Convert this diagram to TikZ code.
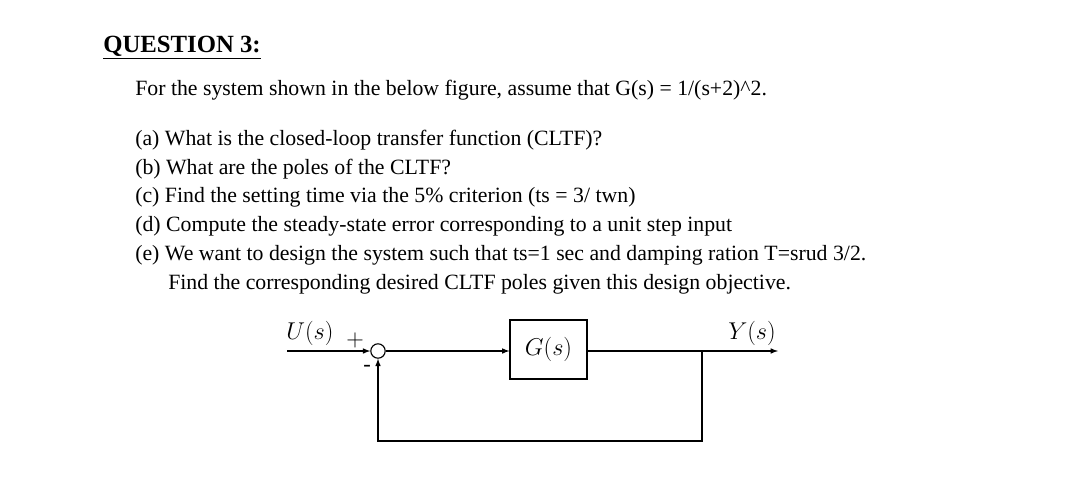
\documentclass[tikz,border=0pt]{standalone}
\usepackage{fontspec}
\setmainfont{Liberation Serif}
\usetikzlibrary{positioning}
\begin{document}
\begin{tikzpicture}[x=0.025cm, y=-0.025cm]
	\tikzstyle{txt} = [anchor=west, inner sep=0pt, font=\fontsize{15.5}{18}\selectfont]
	\tikzstyle{blk} = [draw, thick, minimum width=1.925cm, minimum height=1.475cm, inner sep=0pt]
	\tikzstyle{sum} = [draw, thick, circle, minimum size=0.36cm, inner sep=0pt]
	\tikzstyle{lbl} = [inner sep=0pt, font=\fontsize{16}{18}\selectfont]
	\useasboundingbox (0,0) rectangle (1080,488);
	% question text
	\node[txt, font=\fontsize{17.6}{20}\bfseries] (title) at (103,48) {\underline{QUESTION 3:}};
	\node[txt] (intro) at (135,90) {For the system shown in the below figure, assume that G(s) = 1/(s+2)\^{}2.};
	\node[txt] (qa) at (135,140) {(a) What is the closed-loop transfer function (CLTF)?};
	\node[txt] (qb) at (135,169) {(b) What are the poles of the CLTF?};
	\node[txt] (qc) at (135,197) {(c) Find the setting time via the 5\% criterion (ts = 3/ twn)};
	\node[txt] (qd) at (135,226) {(d) Compute the steady-state error corresponding to a unit step input};
	\node[txt] (qe) at (135,255) {(e) We want to design the system such that ts=1 sec and damping ration T=srud 3/2.};
	\node[txt] (qf) at (168,284) {Find the corresponding desired CLTF poles given this design objective.};
	% block diagram
	\coordinate (in) at (287,351);
	\node[sum] (s1) at (378,351) {};
	\node[blk, font=\fontsize{16}{18}\selectfont] (g) at (548.5,349.5) {$G(s)$};
	\coordinate (br) at (702,351);
	\coordinate (out) at (778,351);
	\coordinate (fb1) at (702,441);
	\coordinate (fb2) at (378,441);
	\draw[thick, -latex] (in) -- (s1);
	\draw[thick, -latex] (s1) -- (s1 -| g.west);
	\draw[thick] (g.east |- br) -- (br);
	\draw[thick, -latex] (br) -- (out);
	\draw[thick, -latex] (br) -- (fb1) -- (fb2) -- (s1);
	\node[lbl] (u) at (310,333) {$U(s)$};
	\node[lbl] (y) at (752,333) {$Y(s)$};
	\node[lbl] (plus) at (355,340) {$+$};
	\node[lbl] (minus) at (367,368) {-};
\end{tikzpicture}
\end{document}
